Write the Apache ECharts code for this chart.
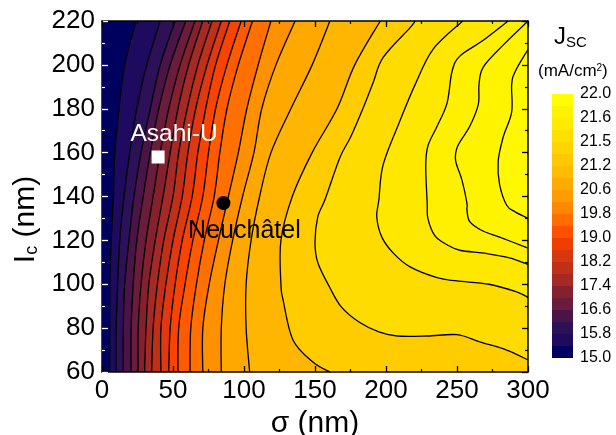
<!DOCTYPE html>
<html><head><meta charset="utf-8">
<style>html,body{margin:0;padding:0;background:#fff}#c{width:616px;height:435px}</style>
<script src="https://cdn.jsdelivr.net/npm/echarts@6/dist/echarts.min.js"></script>
</head><body><div id="c"></div>
<script>
// Sample rows (Ic, nm) for the contours that run from the top edge to the bottom edge
const lcRows = [220,200,180,160,140,120,100,80,60];
// sigma (nm) of each contour at those rows
const s1  = [24,16,12,9,8,6.5,5.5,5.5,5.5];
const s2  = [41,31.5,24.5,19.5,15.5,12.5,11,10,10];
const s3  = [51.5,41,34,27.5,22.5,19,16,15,15];
const s4  = [59,48,40,34,29,24.5,22,20.5,20.5];
const s5  = [65.5,55,47,41,36,31,27.5,25.5,25.5];
const s6  = [71,61,53.5,48,43,37.5,33,31,30];
const s7  = [77.5,67.5,60,54,50,43.5,39,36,35];
const s8  = [84,74,66,60.5,56.5,50,45,41.5,41.5];
const s9  = [90,80,73,67.5,63.5,56.5,51.5,48,47];
const s10 = [98,88,80,75,71,64,58.5,54,53.5];
const s11 = [106,96,88,83,79,72,66.5,62.5,62];
const s12 = [119,110,102,96,89,82,75.5,71,71];
const s13 = [136,122.5,112.5,107,99,92,86.5,84,84];
const s14 = [160.5,148,133,119,111,105,101.5,101.5,104];
// Contours that bend, as [sigma, Ic] pairs
const c15 = [[196,220],[178,200],[165.5,180],[148,160],[134,140],[126,120],[126,100],[127.5,93],[134.5,74.6],[148.5,64.6],[160.5,60]];
const c16 = [[220.5,220],[217,217],[198,203.4],[191,192],[184,180.5],[175,167],[167.5,157.7],[157,138.5],[152,130.8],[150,119],[152,109.8],[160.5,98.4],[168.5,89.7],[181,82.8],[195,78.3],[208,76.4],[229,76.4],[250,77],[266,73.7],[285,70],[300,65.5]];
const c17 = [[254,220],[233,207],[220.5,191],[209.5,174],[198,154.5],[195,138.5],[193.5,130.8],[197,121.6],[205,114.3],[217,107.9],[236,103],[250,101.5],[272.5,100],[292,96.5],[300,94]];
const c18 = [[286,220],[268,211],[252,204],[246.5,197],[243,182.6],[236,172],[229.5,163],[228,154],[229,137],[229.5,130],[234.5,122],[243,118],[252,115.5],[271,114],[287,112],[300,109]];
const c19 = [[300,220],[282.5,209],[268.5,199],[265.5,191],[265,182],[259,172],[250.5,163],[249,156.5],[253.5,147.5],[257,137],[257,134],[259,128.5],[267.5,124.5],[280,121.5],[300,116.5]];
const c20 = [[300,207],[291,197],[288.5,191],[288.5,178.5],[282.5,167],[279,156],[280,145.5],[285,136],[291,133],[300,130]];
// Colours of the colour bar, lowest first
const barColors = ['#00005e','#1e0a5e','#2c1058','#4a1448','#6a1c3c','#85202f','#a52a25','#c03018','#d83810','#f03e00','#ff5000','#ff6c00','#ff8800','#ff9c00','#ffaa00','#ffbc00','#ffc800','#ffd400','#ffe000','#ffea00','#fff400','#ffff00'];
// Fill colours: background, then the region beyond each contour
const plotBase = '#00005e';
const plotColors = ['#1e0a5e','#2c1058','#4a1448','#6a1c3c','#85202f','#a52a25','#c03018','#e03810','#f84400','#ff5a00','#ff7000','#ff9000','#ffa800','#ffb600','#ffcc00','#ffdc00','#ffe800','#fff000','#fff400','#fff800'];
const barLabels = ['15.0','15.8','16.6','17.4','18.2','19.0','19.8','20.6','21.2','21.5','21.6','22.0'];
const asahi = [39.5,158];
const neuchatel = [85.5,137];

const rowContours = [s1,s2,s3,s4,s5,s6,s7,s8,s9,s10,s11,s12,s13,s14].map(s => s.map((v,i)=>[v,lcRows[i]]));
const contours = rowContours.concat([c15,c16,c17,c18,c19,c20]);

function curve(p){
  let d = 'M'+p[0][0]+' '+p[0][1];
  for(let i=0;i<p.length-1;i++){
    const a=p[Math.max(i-1,0)],b=p[i],c=p[i+1],e=p[Math.min(i+2,p.length-1)];
    d+='C'+(b[0]+(c[0]-a[0])/6)+' '+(b[1]+(c[1]-a[1])/6)+' '+(c[0]-(e[0]-b[0])/6)+' '+(c[1]-(e[1]-b[1])/6)+' '+c[0]+' '+c[1];
  }
  return d;
}
function renderContour(params, api){
  const k = api.value(2), pts = contours[k];
  const px = pts.map(q=>api.coord(q));
  const line = curve(px);
  let fill = line;
  const last = pts[pts.length-1], first = pts[0];
  if(last[1]===60){ const q=api.coord([300,60]); fill+='L'+q[0]+' '+q[1]; }
  if(first[1]===220){ const q=api.coord([300,220]); fill+='L'+q[0]+' '+q[1]; }
  fill+='Z';
  return {type:'group',children:[
    {type:'path',shape:{pathData:fill},style:{fill:plotColors[k],stroke:null}},
    {type:'path',shape:{pathData:line},style:{fill:null,stroke:'#000',lineWidth:1.3}}
  ]};
}
function renderBand(params, api){
  const i = api.value(1), a = api.coord([0,i]), b = api.coord([1,i+1]);
  return {type:'rect',shape:{x:a[0],y:b[1],width:b[0]-a[0],height:a[1]-b[1]},style:{fill:barColors[i]}};
}
const font = 'Liberation Sans, Arial, sans-serif';
const tick = (c)=>({show:true,inside:true,length:6,lineStyle:{color:c,width:1.3}});
const minor = (c)=>({show:true,splitNumber:2,length:3,lineStyle:{color:c,width:1.2}});
const chart = echarts.init(document.getElementById('c'),null,{renderer:'canvas'});
chart.setOption({
  animation:false,
  backgroundColor:'#fff',
  textStyle:{fontFamily:font},
  title:[
    {text:'{j|J}{s|SC}',left:549,top:20,textStyle:{rich:{j:{fontSize:24,fontWeight:'normal',fontFamily:font,color:'#000'},s:{fontSize:15,fontWeight:'normal',fontFamily:font,color:'#000',verticalAlign:'bottom',padding:[10,0,0,0]}}}},
    {text:'(mA/cm{u|2})',left:533,top:58,textStyle:{fontSize:17,fontWeight:'normal',fontFamily:font,color:'#000',rich:{u:{fontSize:10,fontWeight:'normal',fontFamily:font,color:'#000',verticalAlign:'top',padding:[0,0,6,0]}}}}
  ],
  grid:[{left:102,right:88,top:21,bottom:63,outerBoundsMode:'none'},{left:552,width:21,top:94,height:264,outerBoundsMode:'none'}],
  xAxis:[
    {type:'value',gridIndex:0,min:0,max:300,interval:50,position:'bottom',z:10,name:'σ (nm)',nameLocation:'middle',nameGap:35,
     nameTextStyle:{fontSize:30,fontFamily:font,color:'#000'},
     axisLine:{show:true,onZero:false,lineStyle:{color:'#000',width:1.5}},axisTick:tick('#000'),minorTick:minor('#000'),splitLine:{show:false},
     axisLabel:{fontSize:26,color:'#000',margin:6,fontFamily:font}},
    {type:'value',gridIndex:0,min:0,max:300,interval:50,position:'top',z:10,
     axisLine:{show:true,onZero:false,lineStyle:{color:'#000',width:1.5}},axisTick:tick('#000'),minorTick:minor('#000'),splitLine:{show:false},axisLabel:{show:false}},
    {type:'value',gridIndex:1,min:0,max:1,show:false}
  ],
  yAxis:[
    {type:'value',gridIndex:0,min:60,max:220,interval:20,position:'left',z:10,
     name:'{a|I}{b|c}{a| (nm)}',nameLocation:'middle',nameGap:60,nameRotate:90,
     nameTextStyle:{padding:[0,46,0,0],rich:{a:{fontSize:30,fontFamily:font,color:'#000'},b:{fontSize:18,fontFamily:font,color:'#000',verticalAlign:'bottom',padding:[10,0,0,0]}}},
     axisLine:{show:true,onZero:false,lineStyle:{color:'#00005e',width:1.5}},axisTick:tick('#fff'),minorTick:minor('#fff'),splitLine:{show:false},
     axisLabel:{fontSize:26,color:'#000',margin:7,fontFamily:font}},
    {type:'value',gridIndex:0,min:60,max:220,interval:20,position:'right',z:10,
     axisLine:{show:true,onZero:false,lineStyle:{color:'#000',width:1.5}},axisTick:tick('#000'),minorTick:minor('#000'),splitLine:{show:false},axisLabel:{show:false}},
    {type:'value',gridIndex:1,min:0,max:22,interval:2,position:'right',
     axisLine:{show:false},axisTick:{show:false},splitLine:{show:false},
     axisLabel:{fontSize:16,color:'#000',margin:7,fontFamily:font,formatter:(v)=>barLabels[v/2]}}
  ],
  series:[
    {type:'custom',xAxisIndex:0,yAxisIndex:0,clip:false,silent:true,z:1,
     renderItem:(params,api)=>{const a=api.coord([0,60]),b=api.coord([300,220]);return {type:'rect',shape:{x:a[0],y:b[1],width:b[0]-a[0],height:a[1]-b[1]},style:{fill:plotBase}};},
     data:[[0,60]]},
    {type:'custom',xAxisIndex:0,yAxisIndex:0,clip:false,silent:true,z:2,renderItem:renderContour,
     data:contours.map((p,i)=>[p[0][0],p[0][1],i]),encode:{x:0,y:1}},
    {type:'custom',xAxisIndex:2,yAxisIndex:2,silent:true,renderItem:renderBand,
     data:barColors.map((c,i)=>[0,i]),encode:{x:0,y:1}},
    {type:'scatter',xAxisIndex:0,yAxisIndex:0,z:5,symbol:'rect',symbolSize:13,itemStyle:{color:'#fff',opacity:1},data:[asahi],
     label:{show:true,position:'top',distance:4,offset:[16,0],formatter:'Asahi-U',fontSize:24.5,color:'#fff',fontFamily:font}},
    {type:'scatter',xAxisIndex:0,yAxisIndex:0,z:5,symbol:'circle',symbolSize:14,itemStyle:{color:'#000',opacity:1},data:[neuchatel],
     label:{show:true,position:'bottom',distance:9,offset:[21,0],formatter:'Neuchâtel',fontSize:25,color:'#000',fontFamily:font}}
  ]
});
</script></body></html>
